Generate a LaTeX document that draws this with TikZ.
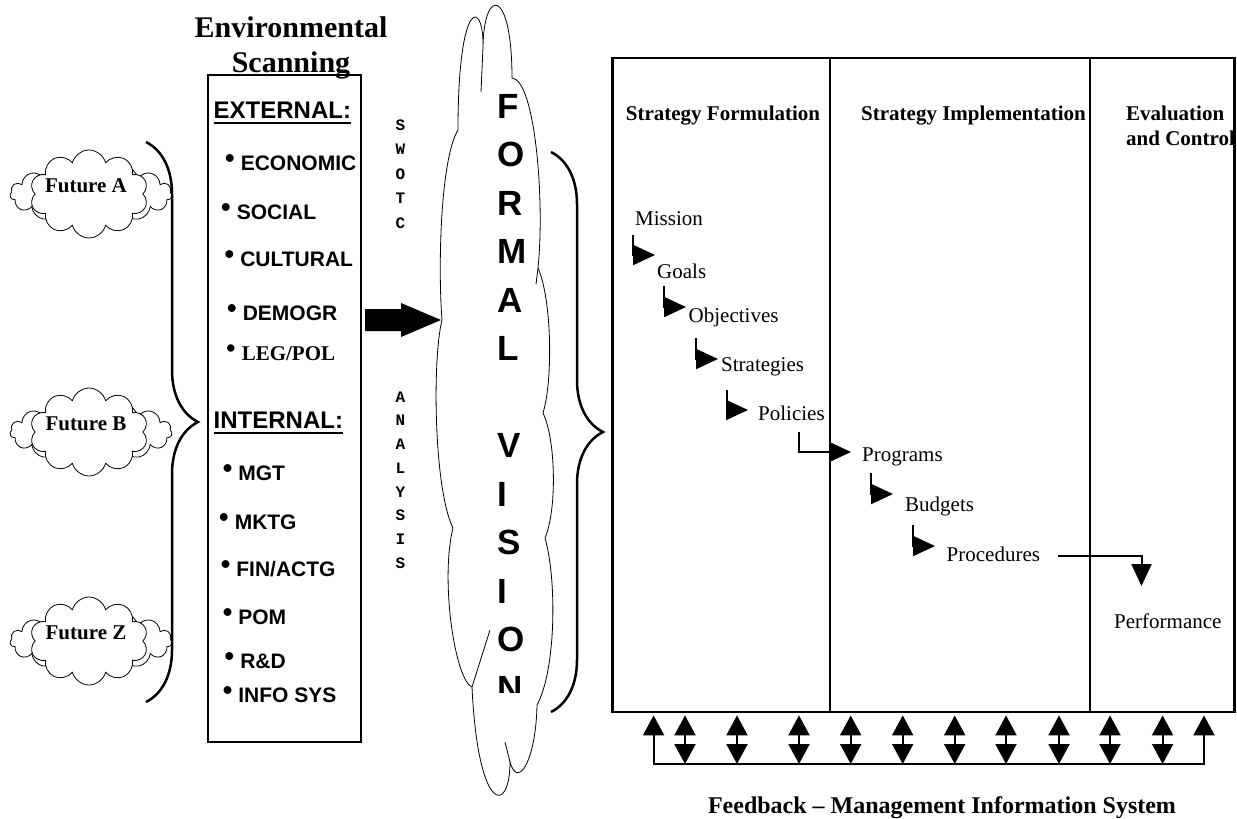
\documentclass[tikz,border=0pt]{standalone}
\usepackage{fontspec}
\setmainfont{Liberation Serif}
\setsansfont{Liberation Sans}
\setmonofont{Liberation Mono}
\usetikzlibrary{shapes.symbols, arrows.meta, decorations.pathreplacing, calc}

\begin{document}
\begin{tikzpicture}[x=1pt,y=-1pt]
\tikzstyle{every node}=[inner sep=0pt]
\tikzstyle{frame}=[draw, line width=2.8pt]
\tikzstyle{puff}=[cloud, draw, line width=0.8pt, fill=white, cloud ignores aspect]
\tikzstyle{item}=[anchor=base west, font=\sffamily\bfseries\fontsize{21}{25}\selectfont]
\tikzstyle{swot}=[font=\ttfamily\bfseries\fontsize{16}{18}\selectfont]
\tikzstyle{vis}=[anchor=west, font=\sffamily\bfseries\fontsize{35}{40}\selectfont]
\tikzstyle{head}=[anchor=base, font=\bfseries\fontsize{21}{25}\selectfont]
\tikzstyle{stage}=[anchor=base west, font=\fontsize{21}{25}\selectfont]
\tikzstyle{stepto}=[line width=2pt, -{Triangle[length=22pt,width=20pt]}]
\tikzstyle{both}=[line width=2pt, {Triangle[length=20pt,width=21pt]}-{Triangle[length=20pt,width=21pt]}]
\tikzstyle{curly}=[line width=2.5pt, decorate, decoration={brace, amplitude=52pt}]

\useasboundingbox (0,0) rectangle (1237,819);

% futures
\foreach \f/\y in {A/194, B/432, Z/641} {
  \node[puff, cloud puffs=15, minimum width=162, minimum height=62] (back\f) at (91,\y) {};
  \node[puff, cloud puffs=10, minimum width=118, minimum height=88] (fut\f) at (89,\y) {};
  \node[font=\bfseries\fontsize{21}{25}\selectfont] (name\f) at (86,\y-8) {Future \f};
}
\draw[curly] (146,142) -- (146,702);

% environmental scanning
\node[frame, minimum width=153, minimum height=667] (scan) at (284.5,408.5) {};
\node[anchor=north, align=center, font=\bfseries\fontsize{30}{35}\selectfont] (title) at (291,16) {Environmental\\Scanning};

\node[anchor=base west, font=\sffamily\bfseries\fontsize{24}{28}\selectfont] (ext) at (213.5,118.5) {EXTERNAL:};
\draw[line width=2pt] ($(ext.base west)+(0,4)$) -- ($(ext.base east)+(0,4)$);
\node[anchor=base west, font=\sffamily\bfseries\fontsize{24}{28}\selectfont] (int) at (213.5,428.6) {INTERNAL:};
\draw[line width=2pt] ($(int.base west)+(0,4)$) -- ($(int.base east)+(0,4)$);

\foreach \x/\y/\t [count=\i] in {229/163/ECONOMIC, 225/212/SOCIAL, 228.5/259/CULTURAL, 231/313/DEMOGR,
    226.6/473/MGT, 223/522/MKTG, 224.6/569/{FIN/ACTG}, 226.6/617/POM, 228.5/661/R\&D, 226.6/695/INFO SYS}
  \node[item] (it\i) at (\x-4,\y+7.5) {\raisebox{3pt}{\scalebox{1.3}{•}}\hspace{6pt}\t};
\node[item, font=\bfseries\fontsize{21}{25}\selectfont] (legpol) at (226,360.9) {\raisebox{3pt}{\scalebox{1.3}{•}}\hspace{6pt}LEG/POL};

% swotc analysis
\foreach \ch [count=\i from 0] in {S,W,O,T,C}
  \node[swot] (sw\i) at (400.5,125+24.5*\i) {\ch};
\foreach \ch [count=\i from 0] in {A,N,A,L,Y,S,I,S}
  \node[swot] (an\i) at (400.5,397+23.7*\i) {\ch};

\fill (365,309) -- (401,309) -- (401,303) -- (441,320) -- (401,337) -- (401,331) -- (365,331) -- cycle;

% formal vision
\draw[line width=0.8pt] (458,130) .. controls (458,-5) and (484,0) .. (483,47)
  .. controls (484,-14) and (512,-12) .. (512,78)
  .. controls (535,80) and (545,200) .. (538,268)
  .. controls (552,300) and (553,380) .. (543,413)
  .. controls (556,440) and (557,510) .. (545,538)
  .. controls (557,580) and (556,670) .. (537,705)
  .. controls (536,760) and (518,790) .. (510,762)
  .. controls (510,815) and (478,815) .. (472,687)
  .. controls (455,680) and (440,580) .. (453,528)
  .. controls (434,490) and (432,360) .. (442,320)
  .. controls (438,270) and (440,160) .. cycle;
\draw[line width=0.8pt] (483,47) -- (481,92);
\draw[line width=0.8pt] (538,268) -- (536,284);
\draw[line width=0.8pt] (510,762) -- (505,742);
\draw[line width=0.8pt] (472,687) -- (490,630);
\begin{scope}
\clip (440,0) rectangle (560,692);
\foreach \ch [count=\i from 0] in {F,O,R,M,A,L,,V,I,S,I,O,N}
  \node[vis] (v\i) at (497,106+48.5*\i) {\ch};
\end{scope}
\draw[curly] (551,152) -- (551,712);

% strategy panel
\node[frame, minimum width=622, minimum height=654] (panel) at (923.5,385) {};
\draw[frame] (panel.north -| 830,0) -- (panel.south -| 830,0);
\draw[frame] (panel.north -| 1090,0) -- (panel.south -| 1090,0);

\node[head] (form) at (723,120) {Strategy Formulation};
\node[head] (impl) at (973.5,120) {Strategy Implementation};
\node[head, anchor=north west, align=left] (eval) at (1126,105.5) {Evaluation\\and Control};

\node[stage] (mission) at (635,225) {Mission};
\node[stage] (goals) at (657,278) {Goals};
\node[stage] (objectives) at (688.5,322) {Objectives};
\node[stage] (strategies) at (721,371) {Strategies};
\node[stage] (policies) at (758,420) {Policies};
\node[stage] (programs) at (862,461.7) {Programs};
\node[stage] (budgets) at (905,511.7) {Budgets};
\node[stage] (procedures) at (946.5,561) {Procedures};
\node[stage] (performance) at (1114,628) {Performance};

\draw[stepto] ($(mission.base west)+(-2,10)$) |- ($(goals.base west)+(-2,-23)$);
\draw[stepto] ($(goals.base west)+(7,8)$) |- ($(objectives.base west)+(-2.5,-15)$);
\draw[stepto] ($(objectives.base west)+(7,16)$) |- ($(strategies.base west)+(-3,-12)$);
\draw[stepto] ($(strategies.base west)+(6,19)$) |- ($(policies.base west)+(-10,-10)$);
\draw[stepto] ($(policies.base west)+(41,12)$) |- ($(programs.base west)+(-11,-9.7)$);
\draw[stepto] ($(programs.base west)+(9,11.3)$) |- ($(budgets.base west)+(-12,-17.7)$);
\draw[stepto] ($(budgets.base west)+(8,13.3)$) |- ($(procedures.base west)+(-11.5,-15)$);
\draw[stepto] ($(procedures.base east)+(18,-5)$) -| ($(performance.base west)+(27.5,-42)$);

% feedback
\coordinate (fbl) at (653.6,764);
\coordinate (fbr) at (1204,764);
\draw[both] ($(fbl |- panel.south)+(0,2)$) -- (fbl) -- (fbr) -- ($(fbr |- panel.south)+(0,2)$);
\foreach \x in {685,737,799,850.7,902.7,954.7,1006,1059,1110,1162.6}
  \draw[both] ($(\x,0 |- panel.south)+(0,2)$) -- (\x,0 |- fbl);
\node[anchor=base, font=\bfseries\fontsize{24}{28}\selectfont] (fb) at (942,813) {Feedback – Management Information System};
\end{tikzpicture}
\end{document}
